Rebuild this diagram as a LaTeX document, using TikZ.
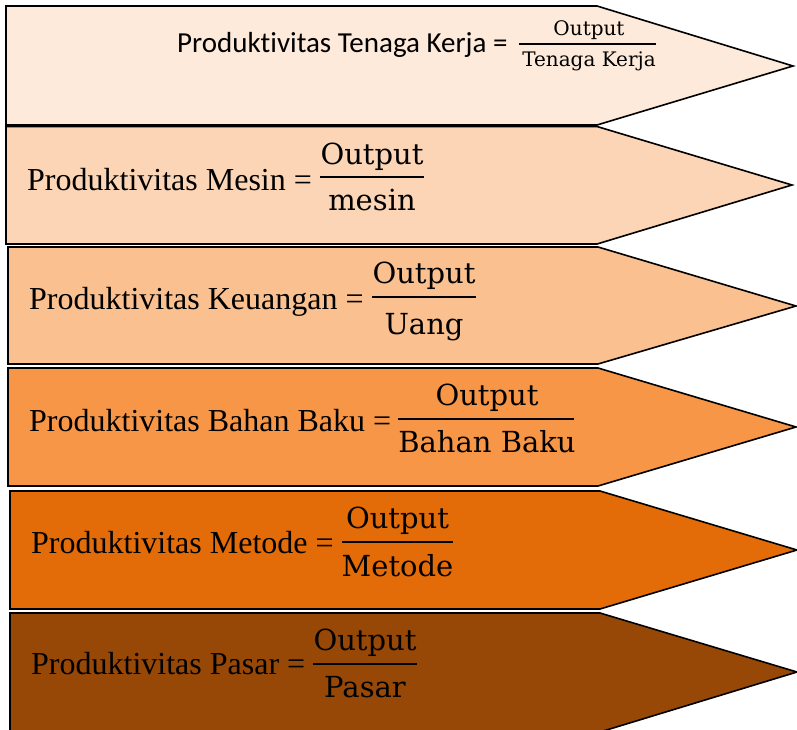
\documentclass[tikz,border=0pt]{standalone}
\usepackage{fontspec}
\setmainfont{Liberation Serif}
\newfontfamily\calib[Ligatures={NoCommon}]{Carlito}
\newfontfamily\camb{DejaVu Serif}
\definecolor{cA}{HTML}{FDEADA}
\definecolor{cB}{HTML}{FBD5B5}
\definecolor{cC}{HTML}{FAC090}
\definecolor{cD}{HTML}{F79646}
\definecolor{cE}{HTML}{E36C09}
\definecolor{cF}{HTML}{974806}
\begin{document}
\begin{tikzpicture}[x=1pt,y=-1pt,
  arrowshape/.style={draw=black,line width=1.6pt,line join=miter},
  lbl/.style={anchor=base west,inner sep=0pt,font=\fontsize{32}{38}\selectfont},
  lblA/.style={anchor=base west,inner sep=0pt,font=\calib\fontsize{29}{34}\selectfont},
  fr/.style={anchor=base,inner sep=0pt,font=\camb\fontsize{29}{34}\selectfont},
  frA/.style={anchor=base,inner sep=0pt,font=\camb\fontsize{20}{24}\selectfont},
  fbar/.style={fill=black,inner sep=0pt,minimum height=2.6pt}]
\useasboundingbox (0,0) rectangle (797,730);
\clip (0,0) rectangle (797,730);
% shapes
\path[arrowshape,fill=cA] (6,6) -- (597,6) -- (793,66) -- (597,125) -- (6,125) -- cycle;
\path[arrowshape,fill=cB] (6,126.5) -- (597,126.5) -- (792,185) -- (597,244) -- (6,244) -- cycle;
\path[arrowshape,fill=cC] (8,247) -- (598,247) -- (796,306) -- (598,364) -- (8,364) -- cycle;
\path[arrowshape,fill=cD] (8,368) -- (598,368) -- (796,427) -- (598,486) -- (8,486) -- cycle;
\path[arrowshape,fill=cE] (10,491) -- (600,491) -- (797,550) -- (600,609) -- (10,609) -- cycle;
\path[arrowshape,fill=cF] (10,613) -- (600,613) -- (797,672) -- (600,732) -- (10,732) -- cycle;
% row 1
\node[lblA] (l1) at (177,53) {Produktivitas Tenaga Kerja =};
\node[fbar,minimum width=137pt,minimum height=1.8pt] (b1) at (587.5,44) {};
\node[frA] (n1) at (589,36) {Output};
\node[frA] (d1) at (589,67) {Tenaga Kerja};
% row 2
\node[lbl] (l2) at (27,190) {Produktivitas Mesin =};
\node[fbar,minimum width=104pt] (b2) at (372,177) {};
\node[fr] (n2) at (372,165) {Output};
\node[fr] (d2) at (372,210) {mesin};
% row 3
\node[lbl] (l3) at (29,309) {Produktivitas Keuangan =};
\node[fbar,minimum width=104pt] (b3) at (424,297) {};
\node[fr] (n3) at (424,283) {Output};
\node[fr] (d3) at (424,334) {Uang};
% row 4
\node[lbl] (l4) at (29,431) {Produktivitas Bahan Baku =};
\node[fbar,minimum width=176pt] (b4) at (486,419) {};
\node[fr] (n4) at (487,405) {Output};
\node[fr] (d4) at (487,452) {Bahan Baku};
% row 5
\node[lbl] (l5) at (31,553) {Produktivitas Metode =};
\node[fbar,minimum width=111pt] (b5) at (397.5,542) {};
\node[fr] (n5) at (397.5,528) {Output};
\node[fr] (d5) at (397.5,576) {Metode};
% row 6
\node[lbl] (l6) at (31,674) {Produktivitas Pasar =};
\node[fbar,minimum width=104pt] (b6) at (365,664) {};
\node[fr] (n6) at (365,650) {Output};
\node[fr] (d6) at (365,697) {Pasar};
\end{tikzpicture}
\end{document}
